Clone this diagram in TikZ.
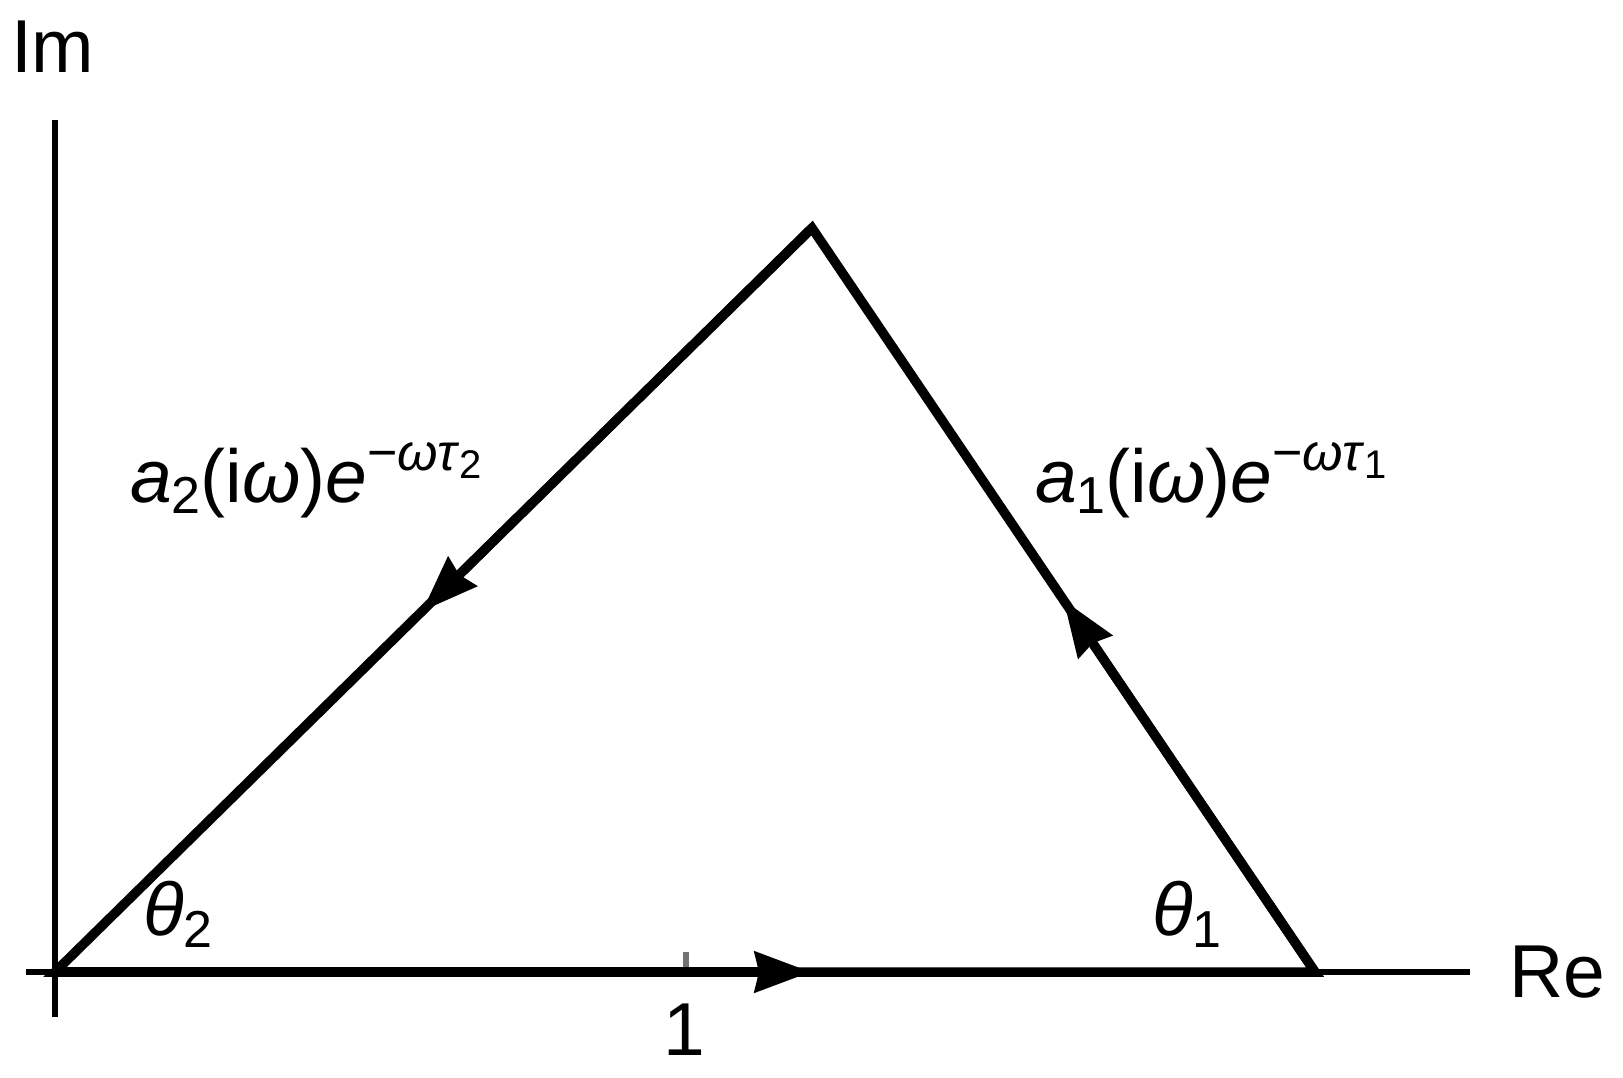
\documentclass[tikz,border=0pt]{standalone}
\usepackage{fontspec}
\setmainfont{Liberation Sans}
\usetikzlibrary{arrows.meta,calc}
\newcommand{\scr}[1]{{\fontsize{52}{52}\selectfont #1}}
\newcommand{\sscr}[1]{{\fontsize{40}{40}\selectfont #1}}
\begin{document}
\begin{tikzpicture}[x=1pt,y=-1pt,
  axisline/.style={line width=6.5pt, line cap=butt},
  sideline/.style={line width=9.5pt, line join=miter},
  tipline/.style={line width=9.5pt, -{Stealth[length=56pt,width=40pt,inset=4pt]}},
  tickline/.style={line width=6pt, draw=black!55},
  lab/.style={inner sep=0pt, outer sep=0pt, anchor=base west, font=\fontsize{75}{80}\selectfont}]
\useasboundingbox (0,0) rectangle (1623,1077);
% axes
\coordinate (xl) at (26,972);
\coordinate (xr) at (1470,972);
\coordinate (yt) at (55,120);
\coordinate (yb) at (55,1017);
\draw[axisline] (xl) -- (xr);
\draw[axisline] (yb) -- (yt);
% tick
\coordinate (t1) at (686,972);
\coordinate (t1u) at (686,952);
\draw[tickline] (t1) -- (t1u);
% triangle
\coordinate (O) at (55,972);
\coordinate (A) at (812,228);
\coordinate (B) at (1315,972);
\draw[sideline] (O) -- (B) -- (A) -- cycle;
% arrows
\coordinate (m1) at ($(O)!0.6!(B)$);
\coordinate (m2) at ($(A)!0.515!(O)$);
\coordinate (m3) at ($(B)!0.50!(A)$);
\draw[tipline] (O) -- (m1);
\draw[tipline] (A) -- (m2);
\draw[tipline] (B) -- (m3);
% labels
\node[lab] (im) at (11,72) {Im};
\node[lab] (re) at (1509,997) {Re};
\node[lab, anchor=base] (one) at (684,1055) {1};
\node[lab] (th2) at (143,935) {\textit{θ}\raisebox{-12pt}{\scr{2}}};
\node[lab] (th1) at (1152,935) {\textit{θ}\raisebox{-12pt}{\scr{1}}};
\node[lab] (la2) at (130,502) {\textit{a}\raisebox{-11pt}{\scr{2}}(i\textit{ω})\textit{e}\raisebox{32pt}{\scr{−\textit{ωτ}\raisebox{-8pt}{\sscr{2}}}}};
\node[lab] (la1) at (1035,502) {\textit{a}\raisebox{-11pt}{\scr{1}}(i\textit{ω})\textit{e}\raisebox{32pt}{\scr{−\textit{ωτ}\raisebox{-8pt}{\sscr{1}}}}};
\end{tikzpicture}
\end{document}
